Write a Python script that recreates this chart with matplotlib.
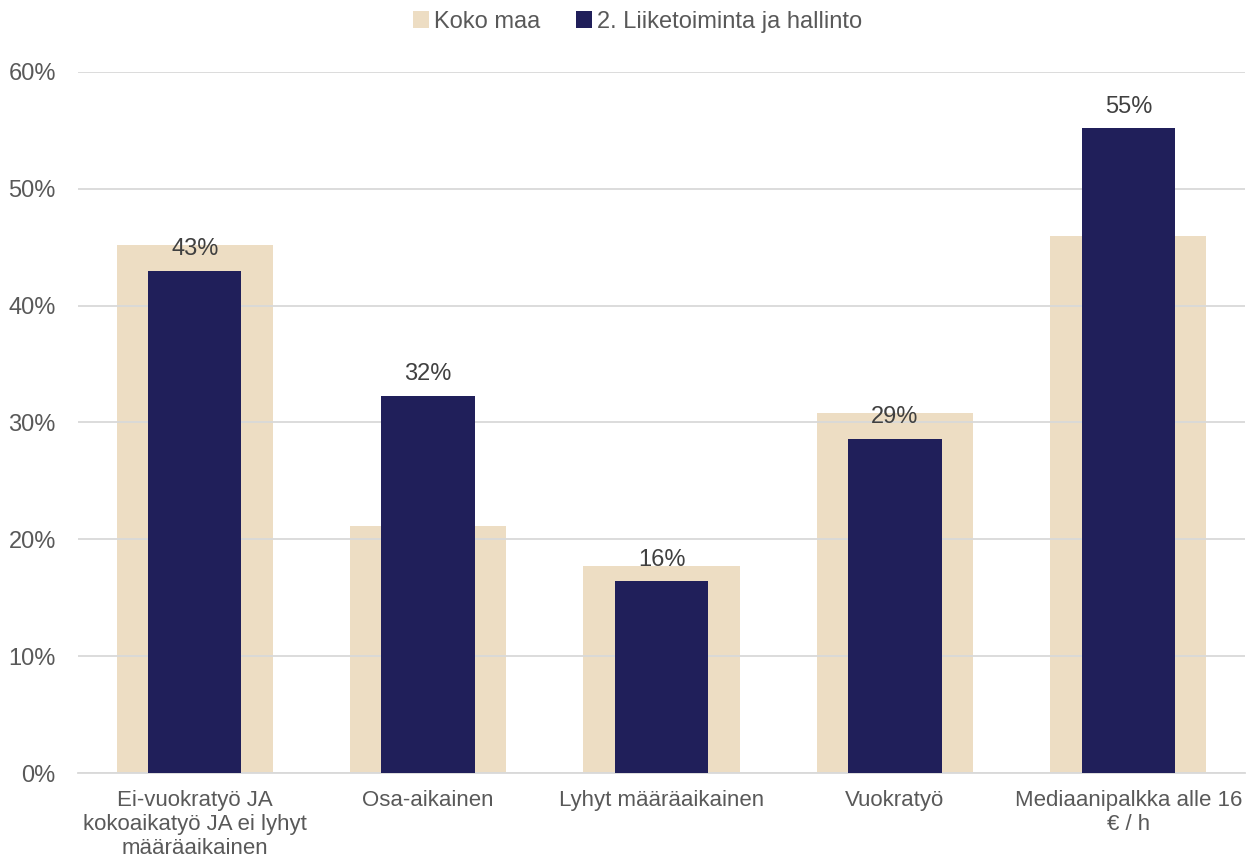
import matplotlib
matplotlib.use("Agg")
import matplotlib.pyplot as plt
import numpy as np

plt.rcParams['font.family'] = ['Liberation Sans', 'DejaVu Sans']

categories = ["Ei-vuokratyö JA\nkokoaikatyö JA ei lyhyt\nmääräaikainen", "Osa-aikainen",
              "Lyhyt määräaikainen", "Vuokratyö", "Mediaanipalkka alle 16\n€ / h"]
koko_maa = [45.2, 21.1, 17.7, 30.8, 46.0]
liiketoiminta = [43.0, 32.3, 16.4, 28.6, 55.2]
labels = ["43%", "32%", "16%", "29%", "55%"]
series_names = ["Koko maa", "2. Liiketoiminta ja hallinto"]

fig = plt.figure(figsize=(12.5, 8.59), dpi=100)
ax = fig.add_axes([0.0624, 0.1001, 0.9336, 0.8161])

x = np.arange(len(categories))
ax.bar(x, koko_maa, width=0.67, color='#EDDDC3', zorder=1, label=series_names[0])
ax.bar(x, liiketoiminta, width=0.40, color='#201F5A', zorder=3, label=series_names[1])
for xi, v, t in zip(x, liiketoiminta, labels):
    ax.text(xi, v + 0.9, t, ha='center', va='bottom', fontsize=17, color='#404040', zorder=4)

ax.set_xlim(-0.5, len(categories) - 0.5)
ax.set_ylim(0, 60)
ax.set_yticks(np.arange(0, 61, 10))
ax.set_yticklabels([f"{v}%" for v in range(0, 61, 10)])
ax.yaxis.grid(True, color='#D9D9D9', linewidth=1.3, zorder=2)
ax.set_axisbelow(False)
for s in ['top', 'right', 'left']:
    ax.spines[s].set_visible(False)
ax.spines['bottom'].set_color('#D9D9D9')
ax.spines['bottom'].set_linewidth(1.3)
ax.tick_params(axis='y', length=0, labelsize=17, labelcolor='#595959', pad=16)
ax.tick_params(axis='x', length=0, labelsize=16, labelcolor='#595959', pad=12)
ax.set_xticks(x)
ax.set_xticklabels(categories, linespacing=1.2)

fig.legend(loc='upper center', bbox_to_anchor=(0.51, 1.012), ncol=2, frameon=False,
           fontsize=17, labelcolor='#595959', handlelength=0.7, handleheight=0.7,
           handletextpad=0.2, columnspacing=1.5)

fig.savefig("out.png", dpi=100)
